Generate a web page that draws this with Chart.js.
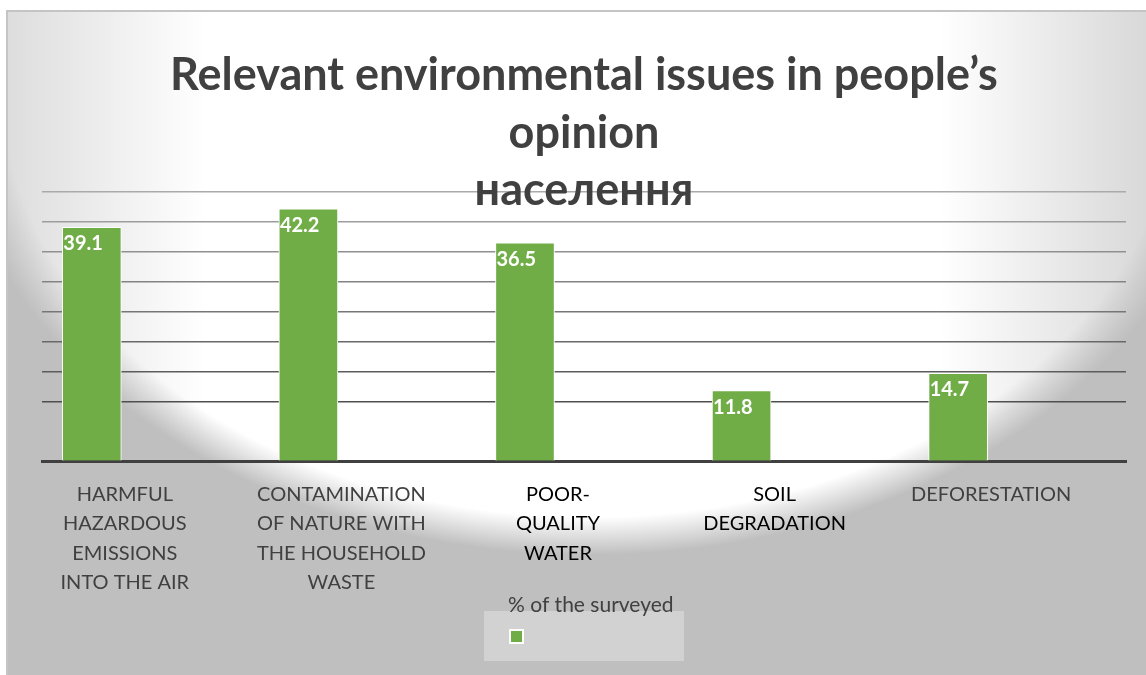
<!DOCTYPE html>
<html>
<head>
<meta charset="utf-8">
<title>Relevant environmental issues</title>
<script src="https://cdn.jsdelivr.net/npm/chart.js@4.4.1/dist/chart.umd.min.js"></script>
<style>
  html, body { margin: 0; padding: 0; background: #fff; }
  #wrap { position: relative; width: 1146px; height: 675px; }
</style>
</head>
<body>
<div id="wrap"><canvas id="issuesChart"></canvas></div>
<script>
const titleLines = ['Relevant environmental issues in people’s', 'opinion', 'населення'];
const issues = [
    ['HARMFUL', 'HAZARDOUS', 'EMISSIONS', 'INTO THE AIR'],
    ['CONTAMINATION', 'OF NATURE WITH', 'THE HOUSEHOLD', 'WASTE'],
    ['POOR-', 'QUALITY', 'WATER'],
    ['SOIL', 'DEGRADATION'],
    ['DEFORESTATION']
];
const shares = [39.1, 42.2, 36.5, 11.8, 14.7];
const seriesName = '% of the surveyed';
const yTicks = [0, 5, 10, 15, 20, 25, 30, 35, 40, 45];

const barGreen = '#70ad47';
const textGrey = '#404040';

// soft grey wash behind everything, white in the middle
const backdrop = {
    id: 'backdrop',
    beforeDraw(chart) {
        const { ctx, width, height } = chart;
        ctx.save();
        ctx.fillStyle = '#ffffff';
        ctx.fillRect(0, 0, width, height);

        ctx.beginPath();
        ctx.rect(7, 11, width - 7, height - 11);
        ctx.clip();

        ctx.save();
        ctx.translate(590, 80);
        ctx.scale(1, 475 / 640);
        const glow = ctx.createRadialGradient(0, 0, 0, 0, 0, 640);
        glow.addColorStop(0, '#ffffff');
        glow.addColorStop(0.92, '#ffffff');
        glow.addColorStop(1, '#bfbfbf');
        ctx.fillStyle = glow;
        ctx.fillRect(-1200, -1200, 3600, 3600);
        ctx.restore();

        const sides = ctx.createLinearGradient(0, 0, width, 0);
        sides.addColorStop(0, 'rgba(191,191,191,0.55)');
        sides.addColorStop(0.18, 'rgba(191,191,191,0)');
        sides.addColorStop(0.82, 'rgba(191,191,191,0)');
        sides.addColorStop(1, 'rgba(191,191,191,0.6)');
        ctx.fillStyle = sides;
        ctx.fillRect(0, 0, width, height);
        ctx.restore();

        ctx.save();
        ctx.strokeStyle = '#c4c4c4';
        ctx.lineWidth = 2;
        ctx.strokeRect(7, 11, width + 10, height + 10);
        ctx.restore();
    }
};

// white value text in the top-left corner of each bar
const valueLabels = {
    id: 'valueLabels',
    afterDatasetsDraw(chart) {
        const { ctx } = chart;
        const meta = chart.getDatasetMeta(0);
        ctx.save();
        ctx.font = 'bold 20px Lato';
        ctx.fillStyle = '#ffffff';
        ctx.textAlign = 'left';
        ctx.textBaseline = 'alphabetic';
        meta.data.forEach((bar, i) => {
            ctx.fillText(shares[i].toFixed(1), bar.x - bar.width / 2 + 1, bar.y + 23);
        });
        ctx.restore();
    }
};

// series key under the axis labels: name on top, swatch inside a pale box
const seriesKey = {
    id: 'seriesKey',
    afterDraw(chart) {
        const { ctx } = chart;
        const ds = chart.data.datasets[0];
        ctx.save();
        ctx.fillStyle = '#d2d2d2';
        ctx.fillRect(484, 611, 200, 50);
        ctx.fillStyle = '#ffffff';
        ctx.fillRect(509, 629, 15, 15);
        ctx.fillStyle = ds.backgroundColor;
        ctx.fillRect(511, 631, 11, 11);
        ctx.font = '21px Lato';
        ctx.fillStyle = textGrey;
        ctx.textAlign = 'left';
        ctx.textBaseline = 'alphabetic';
        ctx.fillText(ds.label, 508, 612);
        ctx.restore();
    }
};

function gridShade(ctx) {
    const v = ctx.tick.value;
    if (v === 0 || v === 5) return 'rgba(0,0,0,0)';
    const shade = Math.round(170 - (45 - v) * 2.6);
    return `rgb(${shade},${shade},${shade})`;
}

function drawChart() {
    const ctx = document.getElementById('issuesChart').getContext('2d');
    Chart.defaults.font.family = 'Lato, "Open Sans", sans-serif';

    new Chart(ctx, {
        type: 'bar',
        data: {
            datasets: [{
                label: seriesName,
                data: shares.map((v, i) => ({ x: i, y: v })),
                backgroundColor: barGreen,
                borderColor: '#ffffff',
                borderWidth: 1,
                barThickness: 59
            }]
        },
        options: {
            responsive: true,
            maintainAspectRatio: false,
            animation: false,
            layout: { padding: { left: 42, right: 20, top: 0, bottom: 59 } },
            plugins: {
                legend: { display: false },
                tooltip: { enabled: false },
                title: {
                    display: true,
                    text: titleLines,
                    color: textGrey,
                    font: { size: 45, weight: 'bold', lineHeight: 57.5 / 45 },
                    padding: { top: 47, bottom: -27.5 }
                }
            },
            scales: {
                x: {
                    type: 'linear',
                    offset: false,
                    min: -0.23,
                    max: 4.775,
                    afterBuildTicks: scale => {
                        scale.ticks = issues.map((_, i) => ({ value: i }));
                    },
                    grid: { display: false, drawTicks: false, offset: false },
                    border: { display: true, color: '#404040', width: 3 },
                    ticks: {
                        autoSkip: false,
                        maxRotation: 0,
                        padding: 19,
                        labelOffset: 33,
                        font: { size: 20, lineHeight: 29.2 / 20 },
                        color: c => (c.index === 2 || c.index === 3) ? '#000000' : textGrey,
                        callback: v => issues[v]
                    }
                },
                y: {
                    min: 0,
                    max: 45,
                    afterBuildTicks: scale => {
                        scale.ticks = yTicks.map(v => ({ value: v }));
                    },
                    border: { display: false },
                    grid: { color: gridShade, lineWidth: 1.6, drawTicks: false },
                    ticks: { display: false }
                }
            }
        },
        plugins: [backdrop, valueLabels, seriesKey]
    });
}

Promise.all([
    document.fonts.load('bold 45px Lato'),
    document.fonts.load('20px Lato')
]).then(drawChart, drawChart);
</script>
</body>
</html>
